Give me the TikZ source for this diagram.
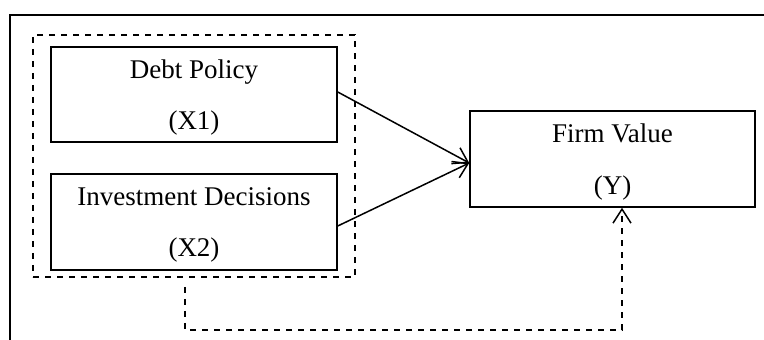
\documentclass[tikz,border=0pt]{standalone}
\usepackage{fontspec}
\setmainfont{Liberation Serif}
\usetikzlibrary{arrows.meta}
\begin{document}
\begin{tikzpicture}[
            x = 0.5pt, y = -0.5pt,
            font = \fontsize{13.5}{25.8}\selectfont,
            var/.style = {draw, line width = 0.75pt, inner sep = 0mm, align = center, text depth = 0pt, minimum width = 143pt},
            group/.style = {draw, line width = 0.75pt, dashed, inner sep = 0mm, minimum width = 161pt, minimum height = 121pt},
            arr/.style = {draw, line width = 0.75pt, -{Straight Barb[length = 7pt, width = 9pt]}},
            darr/.style = {arr, dashed},
        ]
        \useasboundingbox (0,0) rectangle (764,340);
        \draw[line width = 0.75pt] (764,15) -- (10,15) -- (10,340);

        \node (grp) [group] at (194,156){};

        \node (x1) [var, minimum height = 47.5pt] at (194,94.5){Debt Policy\\(X1)};
        \node (x2) [var, minimum height = 48pt] at (194,222){Investment Decisions\\(X2)};
        \node (y) [var, minimum width = 142.5pt, minimum height = 48pt] at (612.5,159){Firm Value\\(Y)};

        \coordinate (x1out) at (x1.east |- 0,92);
        \coordinate (x2out) at (x2.east |- 0,226);
        \coordinate (yin) at (y.west |- 0,163);
        \coordinate (start) at (185,287);
        \coordinate (yb) at (622,0);

        \path[arr] (x1out) -- (yin);
        \path[arr] (x2out) -- (yin);

        \path[darr] (start) |- (yb |- 0,330) -- (yb |- y.south);
    \end{tikzpicture}
\end{document}
